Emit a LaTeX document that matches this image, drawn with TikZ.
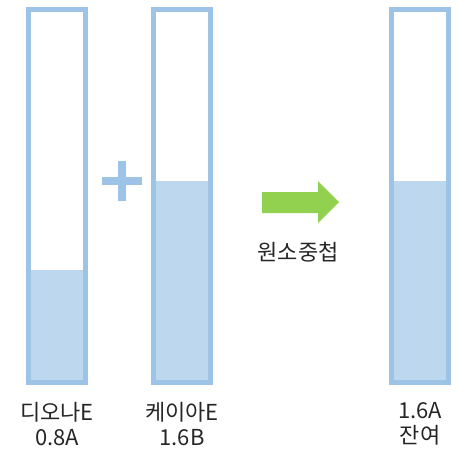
\documentclass[tikz,border=0pt]{standalone}
\usepackage{fontspec}
\setmainfont{Noto Sans CJK KR}
\definecolor{tubeline}{HTML}{9DC3E6}
\definecolor{tubefill}{HTML}{BDD7EE}
\definecolor{arrowgreen}{HTML}{92D050}
\begin{document}
\begin{tikzpicture}[x=1pt,y=-1pt,
  tube/.style={draw=tubeline,line width=5pt,minimum width=57pt,minimum height=373pt,inner sep=0pt},
  liquid/.style={fill=tubefill,inner sep=0pt,minimum width=53pt,anchor=south},
  lbl/.style={font=\fontsize{22}{25}\selectfont,align=center,text=black!85,inner sep=0pt}]
\useasboundingbox (0,0) rectangle (469,456);
% liquids
\node[liquid,minimum height=111pt] (l1) at (57,381) {};
\node[liquid,minimum height=200pt] (l2) at (182,381) {};
\node[liquid,minimum height=200pt] (l3) at (420,381) {};
% tubes
\node[tube] (t1) at (57,196) {};
\node[tube] (t2) at (182,196) {};
\node[tube] (t3) at (420,196) {};
% plus sign
\fill[tubeline] (102,177) rectangle (142,185);
\fill[tubeline] (118,161) rectangle (126,201);
% arrow
\fill[arrowgreen] (262,192) -- (318,192) -- (318,181) -- (339,202) -- (318,223) -- (318,213) -- (262,213) -- cycle;
% labels
\node[lbl] (a) at (57,424) {디오나E\\0.8A};
\node[lbl] (b) at (182,424) {케이아E\\1.6B};
\node[lbl] (c) at (420,424) {1.6A\\잔여};
\node[lbl] (m) at (298,252) {원소중첩};
\end{tikzpicture}
\end{document}
